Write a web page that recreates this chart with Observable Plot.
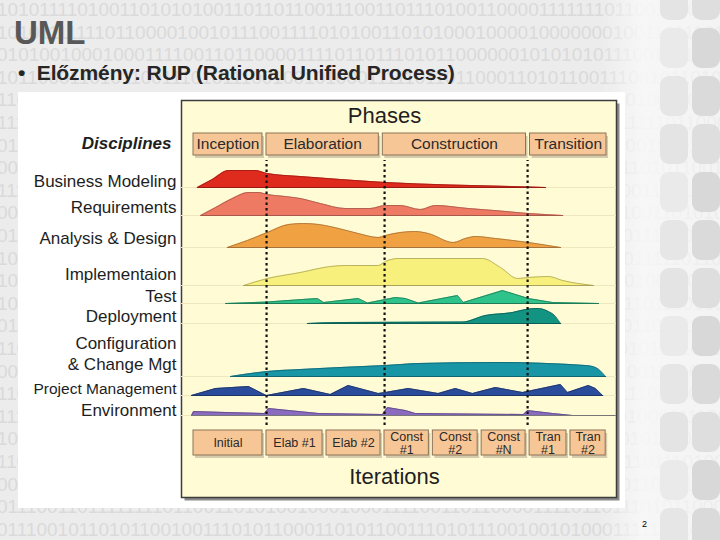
<!DOCTYPE html>
<html><head><meta charset="utf-8">
<script src="https://cdn.jsdelivr.net/npm/d3@7"></script>
<script src="https://cdn.jsdelivr.net/npm/@observablehq/plot@0.6"></script>
<style>
body{margin:0;}
#slide{position:relative;width:720px;height:540px;overflow:hidden;background:#ececec;font-family:"Liberation Sans Narrow","Liberation Sans",Arial,sans-serif;}
#bits{position:absolute;left:0;top:0;width:720px;height:540px;background-repeat:no-repeat;}
#glow{position:absolute;left:600px;top:0;width:120px;height:540px;background:linear-gradient(90deg,rgba(248,248,248,0),rgba(248,248,248,0.9) 35%,rgba(248,248,248,0.6));}
.tile{position:absolute;width:28px;height:40px;border-radius:9px;}
#title{position:absolute;left:14px;top:14px;font-size:33px;font-weight:bold;color:#585858;}
#bullet{position:absolute;left:18px;top:61px;font-size:21px;font-weight:bold;color:#262626;letter-spacing:-0.1px;}
#panel{position:absolute;left:18px;top:92px;width:607px;height:416px;background:#fff;}
#page{position:absolute;left:642px;top:519px;font-size:9px;color:#000;font-family:"Liberation Sans",sans-serif;}
</style></head>
<body>
<div id="slide">
  <div id="bits"></div>
  <div id="glow"></div>
  <div id="tiles"></div>
  <div id="title">UML</div>
  <div id="bullet">•&nbsp;&nbsp;Előzmény: RUP (Rational Unified Process)</div>
  <div id="panel"></div>
  <div id="page">2</div>
</div>
<script>
// ---------- data ----------
const disciplineNames = ["Business Modeling","Requirements","Analysis & Design","Implementaion","Test","Deployment","Configuration\n& Change Mgt","Project Management","Environment"];
// [time % of project, effort]
const businessModeling = [[1.4,0],[5,8],[8.9,17],[15.3,17],[18.2,14],[26.1,11],[35.7,8],[46.5,5],[62.1,2.5],[80.6,0.6],[84.9,0]];
const requirements = [[2.2,0],[5.8,8],[9.8,17],[13.7,23],[16.1,23],[18.2,21],[22.5,19],[26.1,17],[30.9,12],[36.9,7],[42.9,7],[46.5,10],[50.1,10],[54.9,6],[58.5,10],[66.4,7],[74.1,4.5],[80.8,2],[89,0]];
const analysisDesign = [[8.6,0],[13.4,7],[18.2,15],[23.3,23],[26.9,24],[30.5,23],[35.3,19],[40,14],[44.8,10],[46.5,12],[50.1,15],[53.7,16],[56.8,14],[62.8,5],[65.7,9],[68.1,11],[72.9,9],[80.8,5],[88.5,0]];
const implementation = [[12.5,0],[18.2,7],[26.1,13],[33.3,19],[36.9,20],[44.8,20],[46.5,24],[49.6,27],[69.8,27],[74.1,18],[78.2,7],[80.8,8],[85.6,9],[89,5],[96.4,0]];
const test = [[8.2,0],[18.2,1.5],[26.6,4],[30.2,5],[31.7,1],[40,5],[42.2,0.5],[46.5,4],[48.9,6],[51.3,5],[54.4,0.5],[63.8,8],[65.2,1],[74.6,13],[80.8,5],[86.6,1],[97.6,0]];
const deployment = [[27.8,0],[35.7,1],[65,1.5],[70.5,8],[77,11],[80.1,14],[83,15],[85.6,12],[87.3,7],[88,3],[88.5,0]];
const configuration = [[9.4,0],[18.2,5],[26.1,7],[35.7,9],[46.5,11],[54.4,13],[72.9,14],[94.5,11],[96.9,9],[99.3,0]];
const projectManagement = [[0,0],[5.8,7],[13.7,9],[17,2],[18,0],[26.9,7],[33.3,1],[37.6,10],[44.8,2],[46.5,3],[52,7],[59.2,2],[63.3,7],[67.4,2],[72.9,8],[79.4,3],[88.5,11],[90.2,3],[95.2,10],[96.9,7],[98.6,0]];
const environment = [[0,0],[0.5,4],[8.2,3],[17.5,2],[18.5,7],[30.5,2],[45.8,1],[47,8],[51.3,5],[53.7,2],[79.6,1],[80.6,5],[86.6,2],[91.4,0],[101.6,0]];
const effort = [businessModeling, requirements, analysisDesign, implementation, test, deployment, configuration, projectManagement, environment];

const phaseNames = ["Inception","Elaboration","Construction","Transition"];
const phaseBounds = [0, 17.5, 45.4, 80.7, 100];
const iterationNames = ["Initial","Elab #1","Elab #2","Const\n#1","Const\n#2","Const\n#N","Tran\n#1","Tran\n#2"];
const iterationBounds = [0, 17.5, 31.9, 45.8, 57.4, 69.1, 80.6, 90.4, 99.8];
const milestones = [18, 46.3, 80.6];

// ---------- styles / layout ----------
const fills = ["#de2b1e","#ee7a63","#f0a243","#f8f07c","#2dc38a","#139482","#1896a6","#2b4c9b","#8a6bbf"];
const edges = ["#9c1a12","#a8584a","#a8733a","#aaa45a","#1f7a58","#0d5e55","#106473","#1c3366","#5c4685"];
const curves = ["monotone-x","monotone-x","monotone-x","monotone-x","linear","monotone-x","monotone-x","linear","linear"];
const laneBase = [321,293,261,223,205,185,132,113,93];
const labelLift = [7,9,10,12,8,8,23.5,8,6];
const labelSize = [17,17,17,17,17,17,17,15.5,17];
const phaseBand = [351,377];
const iterBand = [51,80];
const milestoneSpan = [83,348];
const FONT = "Liberation Sans, Arial, sans-serif";

// ---------- background texture (binary digits, drawn as an image) ----------
const bitRows = ["1010111101001101010100110110110011100110111010011000011111110110010001001011010110",
 "0101010101011111110110000100101110011110101001101010001000010000000100110111010010",
 "1111111011001101010010001000111100110110000111101101110101100000010101010111001101",
 "1001011010110010011101011000110101100111010111001001010001111101101100011010110011"];
const rowsSvg = d3.range(25).map(i => {
  const s = bitRows[i % 4]; const k = (i * 7) % s.length;
  return `<text x="-3" y="${16 + i * 22.6}">${s.slice(k) + s.slice(0, k)}</text>`;
}).join("");
const bitsSvg = `<svg xmlns="http://www.w3.org/2000/svg" width="720" height="540"><g fill="#dadada" font-size="19" font-family="Liberation Sans Narrow, Liberation Sans, sans-serif">${rowsSvg}</g></svg>`;
document.getElementById("bits").style.backgroundImage = `url("data:image/svg+xml;utf8,${encodeURIComponent(bitsSvg)}")`;
const tileShades = ["#e4e4e4","#dadada","#eaeaea","#dedede","#e6e6e6","#d8d8d8"];
const tilesEl = document.getElementById("tiles");
[660, 692].forEach((tx, c) => d3.range(12).forEach(r => {
  const el = document.createElement("div"); el.className = "tile";
  el.style.left = tx + "px"; el.style.top = (r * 48 - 20) + "px";
  el.style.background = tileShades[(r * 2 + c * 3) % tileShades.length];
  tilesEl.appendChild(el);
}));

// ---------- chart ----------
const phases = phaseNames.map((n, i) => ({name: n, x1: phaseBounds[i], x2: phaseBounds[i + 1]}));
const iterations = iterationNames.map((n, i) => ({name: n, x1: iterationBounds[i], x2: iterationBounds[i + 1]}));
const lanes = disciplineNames.map((n, i) => ({name: n, y: laneBase[i] + labelLift[i], size: labelSize[i]}));

const marks = [
  Plot.frame({fill: "#8a8a8a", dx: 3, dy: 3}),
  Plot.frame({fill: "#fffbd4", stroke: "#3d3d3d", strokeWidth: 1.5}),
  Plot.ruleY(laneBase, {stroke: "#efe7bd", strokeWidth: 1}),
  Plot.rect(phases, {x1: "x1", x2: "x2", y1: phaseBand[0], y2: phaseBand[1], inset: 2, dx: 2, dy: 3, fill: "#b7ae92", opacity: 0.6}),
  Plot.rect(phases, {x1: "x1", x2: "x2", y1: phaseBand[0], y2: phaseBand[1], inset: 2, fill: "#f7c696", stroke: "#8c7257", strokeWidth: 1}),
  Plot.text(phases, {x: d => (d.x1 + d.x2) / 2, y: (phaseBand[0] + phaseBand[1]) / 2, text: "name", fontSize: 15.5, fill: "#2a2a2a", fontFamily: FONT}),
  Plot.rect(iterations, {x1: "x1", x2: "x2", y1: iterBand[0], y2: iterBand[1], inset: 2, dx: 2, dy: 3, fill: "#b7ae92", opacity: 0.6}),
  Plot.rect(iterations, {x1: "x1", x2: "x2", y1: iterBand[0], y2: iterBand[1], inset: 2, fill: "#f7c696", stroke: "#8c7257", strokeWidth: 1}),
  Plot.text(iterations, {x: d => (d.x1 + d.x2) / 2, y: (iterBand[0] + iterBand[1]) / 2, text: "name", fontSize: 12.5, lineHeight: 1.04, fill: "#2a2a2a", fontFamily: FONT}),
  Plot.text(["Phases"], {frameAnchor: "top", dx: -14.5, dy: 15, lineAnchor: "middle", fontSize: 22, fill: "#1e1e1e", fontFamily: FONT}),
  Plot.text(["Iterations"], {frameAnchor: "bottom", dx: -4.5, dy: -21, lineAnchor: "middle", fontSize: 22, fill: "#1e1e1e", fontFamily: FONT}),
  Plot.text(["Disciplines"], {frameAnchor: "top-left", dx: -10, dy: 43, lineAnchor: "middle", textAnchor: "end", fontSize: 17, fontWeight: "bold", fontStyle: "italic", fill: "#1e1e1e", fontFamily: FONT}),
  Plot.text(lanes, {frameAnchor: "left", y: "y", text: "name", fontSize: "size", dx: -5, textAnchor: "end", lineHeight: 1.25, fill: "#1e1e1e", fontFamily: FONT})
];
effort.forEach((data, i) => {
  const base = laneBase[i];
  marks.push(
    Plot.areaY(data, {x: d => d[0], y1: base, y2: d => base + d[1], fill: fills[i], curve: curves[i]}),
    Plot.line(data, {x: d => d[0], y: d => base + d[1], stroke: edges[i], strokeWidth: 1, strokeOpacity: 0.8, curve: curves[i]}),
    Plot.line(data, {x: d => d[0], y: base, stroke: i === 8 ? "#777" : edges[i], strokeWidth: 1.2})
  );
});
marks.push(Plot.ruleX(milestones, {y1: milestoneSpan[0], y2: milestoneSpan[1], stroke: "#111", strokeWidth: 2.2, strokeDasharray: "2.5,3"}));

const chart = Plot.plot({
  width: 607, height: 416,
  marginLeft: 163, marginRight: 9, marginTop: 8, marginBottom: 11,
  x: {domain: [0, 100], range: [173, 590], axis: null},
  y: {domain: [0, 416], range: [416, 0], axis: null},
  style: {background: "transparent", overflow: "visible"},
  marks
});
document.getElementById("panel").appendChild(chart);
</script>
</body></html>
